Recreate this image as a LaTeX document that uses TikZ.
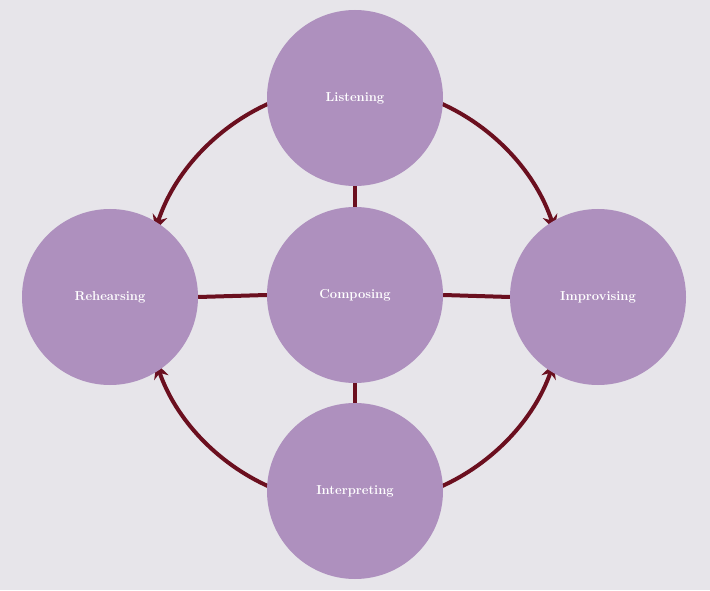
\documentclass[tikz,border=0pt]{standalone}
\usetikzlibrary{arrows.meta}
\definecolor{bg}{HTML}{E7E5EA}
\definecolor{cf}{HTML}{AE90BE}
\definecolor{ln}{HTML}{6B0F1F}
\begin{document}
\begin{tikzpicture}[x=1pt,y=1pt,
  c/.style={circle,fill=cf,minimum size=176pt,inner sep=0pt,text=white,font=\bfseries\fontsize{13}{15}\selectfont},
  con/.style={ln,line width=4pt},
  arr/.style={ln,line width=4pt,-{Stealth[length=15pt,width=15pt]}}]
\fill[bg] (0,0) rectangle (710,590);
\coordinate (o) at (355,295);
\draw[arr] (o) ++(114:210) arc[start angle=114,end angle=162,radius=210];
\draw[arr] (o) ++(66:210) arc[start angle=66,end angle=18,radius=210];
\draw[arr] (o) ++(246:210) arc[start angle=246,end angle=199,radius=210];
\draw[arr] (o) ++(294:210) arc[start angle=294,end angle=341,radius=210];
\node[c] (li) at (355,492) {Listening};
\node[c] (co) at (355,295) {Composing};
\node[c] (re) at (110,293) {Rehearsing};
\node[c] (im) at (598,293) {Improvising};
\node[c] (in) at (355,99) {Interpreting};
\draw[con] (co) -- (li);
\draw[con] (co) -- (in);
\draw[con] (co.west) -- (re.east);
\draw[con] (co.east) -- (im.west);
\end{tikzpicture}
\end{document}
